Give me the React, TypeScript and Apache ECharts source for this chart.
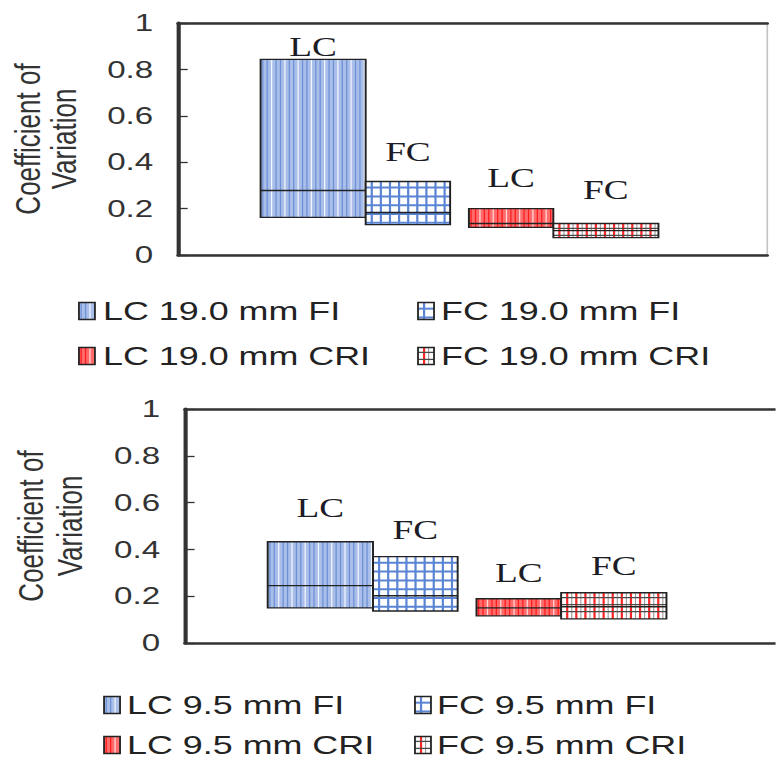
import React, { useEffect, useRef } from "react";
import * as echarts from "echarts";

// ---------------- data ----------------
const GROUPS = ["FI", "CRI"];
const BOX_TYPES = ["LC", "FC", "LC", "FC"];
const BOX_GROUP = ["FI", "FI", "CRI", "CRI"];

const NAMES_19 = ["LC 19.0 mm FI", "FC 19.0 mm FI", "LC 19.0 mm CRI", "FC 19.0 mm CRI"];
const MIN_19 = [0.162, 0.131, 0.119, 0.075];
const MEDIAN_19 = [0.278, 0.183, 0.136, 0.105];
const MAX_19 = [0.843, 0.317, 0.2, 0.136];

const NAMES_95 = ["LC 9.5 mm FI", "FC 9.5 mm FI", "LC 9.5 mm CRI", "FC 9.5 mm CRI"];
const MIN_95 = [0.15, 0.137, 0.116, 0.103];
const MEDIAN_95 = [0.245, 0.202, 0.15, 0.155];
const MAX_95 = [0.433, 0.369, 0.189, 0.215];

const Y_MIN = 0;
const Y_MAX = 1;
const Y_STEP = 0.2;
const Y_TITLE = ["Coefficient of", "Variation"];

// ---------------- layout / style ----------------
const STRETCH = 1.38;
const W = 562;
const H = 761;
const X_MAX = 3.14;
const BOX_W = [0.56, 0.45, 0.45, 0.56];
const PANELS = [
  {
    grid: { left: 129, top: 23, width: 427, height: 232 },
    border: true,
    labelGap: [13, 30, 31, 34],
    titleX: [20.3, 46.4],
    legendIconX: [57.2, 302.9],
    legendTextX: [74.6, 319.6],
    legendY: [311, 356],
  },
  {
    grid: { left: 134, top: 409, width: 435, height: 234 },
    border: false,
    labelGap: [34, 27, 26, 27],
    titleX: [22.5, 50.7],
    legendIconX: [75.4, 300.7],
    legendTextX: [92, 316.7],
    legendY: [705, 745],
  },
];

function patternChildren(kind: number, x0: number, y0: number, x1: number, y1: number): any[] {
  const out: any[] = [];
  const isLC = kind % 2 === 0;
  const blue = kind < 2;
  const base = isLC ? (blue ? "#a9bfe9" : "#ff6b6b") : "#ffffff";
  out.push({
    type: "rect",
    shape: { x: x0, y: y0, width: x1 - x0, height: y1 - y0 },
    style: { fill: base },
  });
  if (isLC) {
    const dark = blue ? "#6c8fd6" : "#ff1c1c";
    const light = blue ? "#f2f6ff" : "#ffd9d9";
    let i = 0;
    for (let x = x0 + 1.6; x < x1 - 0.6; x += 3.2, i++) {
      out.push({
        type: "line",
        shape: { x1: x, y1: y0, x2: x, y2: y1 },
        style: { stroke: i % 3 === 2 ? light : dark, lineWidth: 0.9 },
      });
    }
  } else {
    const vcol = blue ? "#5a84d4" : "#ff2424";
    const hcol = blue ? "#5a84d4" : "#4a4a4a";
    for (let x = x0 + 4.4; x < x1 - 1; x += 6.6) {
      out.push({
        type: "line",
        shape: { x1: x, y1: y0, x2: x, y2: y1 },
        style: { stroke: vcol, lineWidth: 1.6 },
      });
      if (!blue && x + 3.3 < x1 - 1) {
        out.push({
          type: "line",
          shape: { x1: x + 3.3, y1: y0, x2: x + 3.3, y2: y1 },
          style: { stroke: "#9a9a9a", lineWidth: 0.8 },
        });
      }
    }
    const step = blue ? 8.8 : 7;
    for (let y = y0 + step * 0.7; y < y1 - 1; y += step) {
      out.push({
        type: "line",
        shape: { x1: x0, y1: y, x2: x1, y2: y },
        style: { stroke: hcol, lineWidth: blue ? 2 : 1.3 },
      });
    }
  }
  return out;
}

function makeRender(p: number) {
  return (params: any, api: any) => {
    const gx = api.value(0);
    const lo = api.value(1);
    const med = api.value(2);
    const hi = api.value(3);
    const i = api.value(4);
    const isLC = BOX_TYPES[i] === "LC";
    const w = BOX_W[i];
    const xa = isLC ? gx - w : gx;
    const xb = isLC ? gx : gx + w;
    const tl = api.coord([xa, hi]);
    const br = api.coord([xb, lo]);
    const ym = api.coord([xa, med])[1];
    const x0 = tl[0], y0 = tl[1], x1 = br[0], y1 = br[1];
    const children = patternChildren(i, x0, y0, x1, y1);
    children.push({
      type: "line",
      shape: { x1: x0, y1: ym, x2: x1, y2: ym },
      style: { stroke: "#222", lineWidth: 1.4 },
    });
    children.push({
      type: "rect",
      shape: { x: x0, y: y0, width: x1 - x0, height: y1 - y0 },
      style: { fill: "none", stroke: "#222", lineWidth: 1.4 },
    });
    children.push({
      type: "text",
      x: (x0 + x1) / 2,
      y: y0 - PANELS[p].labelGap[i],
      style: {
        text: BOX_TYPES[i],
        font: '27px "Liberation Serif"',
        fill: "#1c1c26",
        align: "center",
        verticalAlign: "middle",
      },
    });
    return { type: "group", children };
  };
}

export default function App() {
  const ref = useRef<HTMLDivElement>(null);
  useEffect(() => {
    if (!ref.current) return;
    const chart = echarts.init(ref.current, undefined, { renderer: "svg" });

    const panelData = [
      { names: NAMES_19, min: MIN_19, med: MEDIAN_19, max: MAX_19 },
      { names: NAMES_95, min: MIN_95, med: MEDIAN_95, max: MAX_95 },
    ];

    const grids: any[] = [];
    const xAxes: any[] = [];
    const yAxes: any[] = [];
    const series: any[] = [];
    const graphics: any[] = [];

    PANELS.forEach((P, p) => {
      const d = panelData[p];
      grids.push({
        ...P.grid,
        show: P.border,
        borderColor: "#c4c4c4",
        borderWidth: 1.2,
        backgroundColor: "transparent",
      });
      ["bottom", "top"].forEach((pos) => {
        xAxes.push({
          type: "value",
          gridIndex: p,
          position: pos,
          min: 0,
          max: X_MAX,
          axisLine: { show: true, onZero: false, lineStyle: { color: "#333", width: 2.5 } },
          axisTick: { show: false },
          axisLabel: { show: false },
          splitLine: { show: false },
        });
      });
      yAxes.push({
        type: "value",
        gridIndex: p,
        min: Y_MIN,
        max: Y_MAX,
        interval: Y_STEP,
        axisLine: { show: true, lineStyle: { color: "#333", width: 3 } },
        axisTick: { show: true, inside: true, length: 7, lineStyle: { color: "#333", width: 1.3 } },
        axisLabel: {
          margin: 18,
          fontSize: 24,
          fontFamily: "Liberation Sans",
          color: "#333",
        },
        splitLine: { show: false },
      });
      series.push({
        type: "custom",
        name: p === 0 ? "19.0 mm" : "9.5 mm",
        xAxisIndex: p * 2,
        yAxisIndex: p,
        clip: false,
        encode: { x: 0, y: [1, 2, 3] },
        renderItem: makeRender(p),
        data: BOX_TYPES.map((_, i) => [
          GROUPS.indexOf(BOX_GROUP[i]) + 1,
          d.min[i],
          d.med[i],
          d.max[i],
          i,
        ]),
      });

      // y-axis title
      const cy = P.grid.top + P.grid.height / 2;
      Y_TITLE.forEach((t, k) => {
        graphics.push({
          type: "text",
          x: P.titleX[k],
          y: cy,
          rotation: Math.PI / 2,
          style: {
            text: t,
            font: '26px "Liberation Sans"',
            fill: "#333",
            align: "center",
            verticalAlign: "middle",
          },
        });
      });

      // legend
      d.names.forEach((name, i) => {
        const col = i % 2;
        const row = Math.floor(i / 2);
        const ix = P.legendIconX[col];
        const iy = P.legendY[row];
        const iw = 11.6;
        const ih = 17;
        const x0 = ix, y0 = iy - ih / 2, x1 = ix + iw, y1 = iy + ih / 2;
        const children = patternChildren(i, x0, y0, x1, y1);
        children.push({
          type: "rect",
          shape: { x: x0, y: y0, width: iw, height: ih },
          style: { fill: "none", stroke: "#222", lineWidth: 1.3 },
        });
        graphics.push({ type: "group", children });
        graphics.push({
          type: "text",
          x: P.legendTextX[col],
          y: iy,
          style: {
            text: name,
            font: '26px "Liberation Sans"',
            fill: "#222",
            align: "left",
            verticalAlign: "middle",
          },
        });
      });
    });

    chart.setOption({
      animation: false,
      grid: grids,
      xAxis: xAxes,
      yAxis: yAxes,
      series,
      graphic: graphics,
    });
    return () => chart.dispose();
  }, []);

  return (
    <div
      ref={ref}
      style={{
        position: "absolute",
        left: 0,
        top: 0,
        width: W,
        height: H,
        transform: `scaleX(${STRETCH})`,
        transformOrigin: "0 0",
        background: "#fff",
      }}
    />
  );
}
